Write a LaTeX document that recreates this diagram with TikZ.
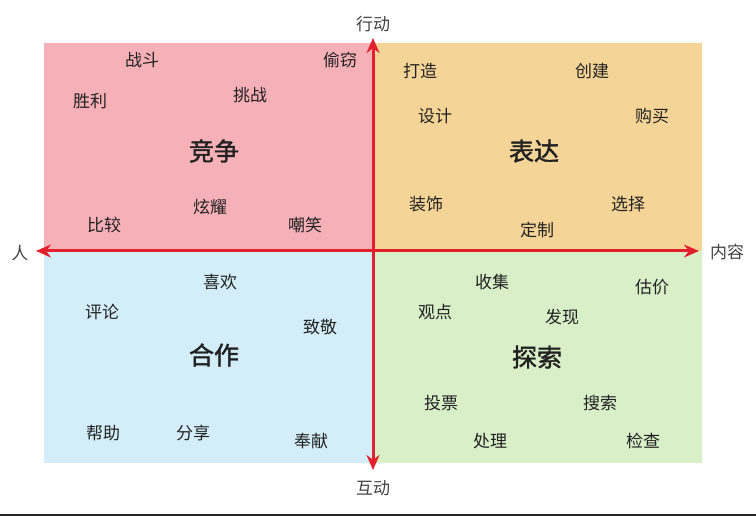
\documentclass[tikz,border=0pt]{standalone}
\usepackage{fontspec}
\setmainfont{Noto Sans CJK SC}
\newfontfamily\titlefont[FakeBold=1.6]{Noto Sans CJK SC}
\usetikzlibrary{arrows.meta}
\definecolor{qpink}{HTML}{F5B0B8}
\definecolor{qorange}{HTML}{F5D597}
\definecolor{qblue}{HTML}{D3EEF8}
\definecolor{qgreen}{HTML}{D8EFC8}
\definecolor{axred}{HTML}{E3202E}
\definecolor{txt}{HTML}{222222}
\tikzset{
  word/.style={font=\fontsize{17}{17}\selectfont, text=txt, inner sep=0pt},
  title/.style={font=\titlefont\fontsize{25}{25}\selectfont, text=txt, inner sep=0pt},
  axlabel/.style={font=\fontsize{17}{17}\selectfont, text=txt!85, inner sep=0pt},
  axis/.style={draw=axred, line width=3pt, {Stealth[length=15pt,width=13pt]}-{Stealth[length=15pt,width=13pt]}}
}
\begin{document}
\begin{tikzpicture}[x=1pt,y=-1pt]
\useasboundingbox (0,0) rectangle (756,516);
\fill[white] (0,0) rectangle (756,516);
% quadrants
\fill[qpink]   (44,43)  rectangle (373,251);
\fill[qorange] (373,43) rectangle (702,251);
\fill[qblue]   (44,251) rectangle (373,463);
\fill[qgreen]  (373,251) rectangle (702,463);
% bottom rule
\coordinate (bl) at (0,515);
\coordinate (br) at (756,515);
\draw[line width=2pt, draw=black!85] (bl) -- (br);
% axes
\coordinate (top) at (373,38);
\coordinate (bot) at (373,470);
\coordinate (lft) at (36,251);
\coordinate (rgt) at (699,251);
\draw[axis] (bot) -- (top);
\draw[axis] (lft) -- (rgt);
% axis labels
\node[axlabel] (xing) at (373,24) {行动};
\node[axlabel] (hu) at (373,488) {互动};
\node[axlabel] (ren) at (20,253) {人};
\node[axlabel] (nr) at (727,252) {内容};
% top-left
\node[word] (a1) at (142,60) {战斗};
\node[word] (a2) at (340,60) {偷窃};
\node[word] (a3) at (90,101) {胜利};
\node[word] (a4) at (250,95) {挑战};
\node[title] (a5) at (214,151) {竞争};
\node[word] (a6) at (210,207) {炫耀};
\node[word] (a7) at (104,225) {比较};
\node[word] (a8) at (305,225) {嘲笑};
% top-right
\node[word] (b1) at (420,71) {打造};
\node[word] (b2) at (592,71) {创建};
\node[word] (b3) at (435,116) {设计};
\node[word] (b4) at (652,116) {购买};
\node[title] (b5) at (534,151) {表达};
\node[word] (b6) at (426,204) {装饰};
\node[word] (b7) at (628,204) {选择};
\node[word] (b8) at (537,230) {定制};
% bottom-left
\node[word] (c1) at (220,282) {喜欢};
\node[word] (c2) at (102,312) {评论};
\node[word] (c3) at (320,327) {致敬};
\node[title] (c4) at (214,355) {合作};
\node[word] (c5) at (103,433) {帮助};
\node[word] (c6) at (193,433) {分享};
\node[word] (c7) at (311,441) {奉献};
% bottom-right
\node[word] (d1) at (492,282) {收集};
\node[word] (d2) at (652,287) {估价};
\node[word] (d3) at (435,312) {观点};
\node[word] (d4) at (562,317) {发现};
\node[title] (d5) at (537,357) {探索};
\node[word] (d6) at (441,403) {投票};
\node[word] (d7) at (600,403) {搜索};
\node[word] (d8) at (490,441) {处理};
\node[word] (d9) at (643,441) {检查};
\end{tikzpicture}
\end{document}
